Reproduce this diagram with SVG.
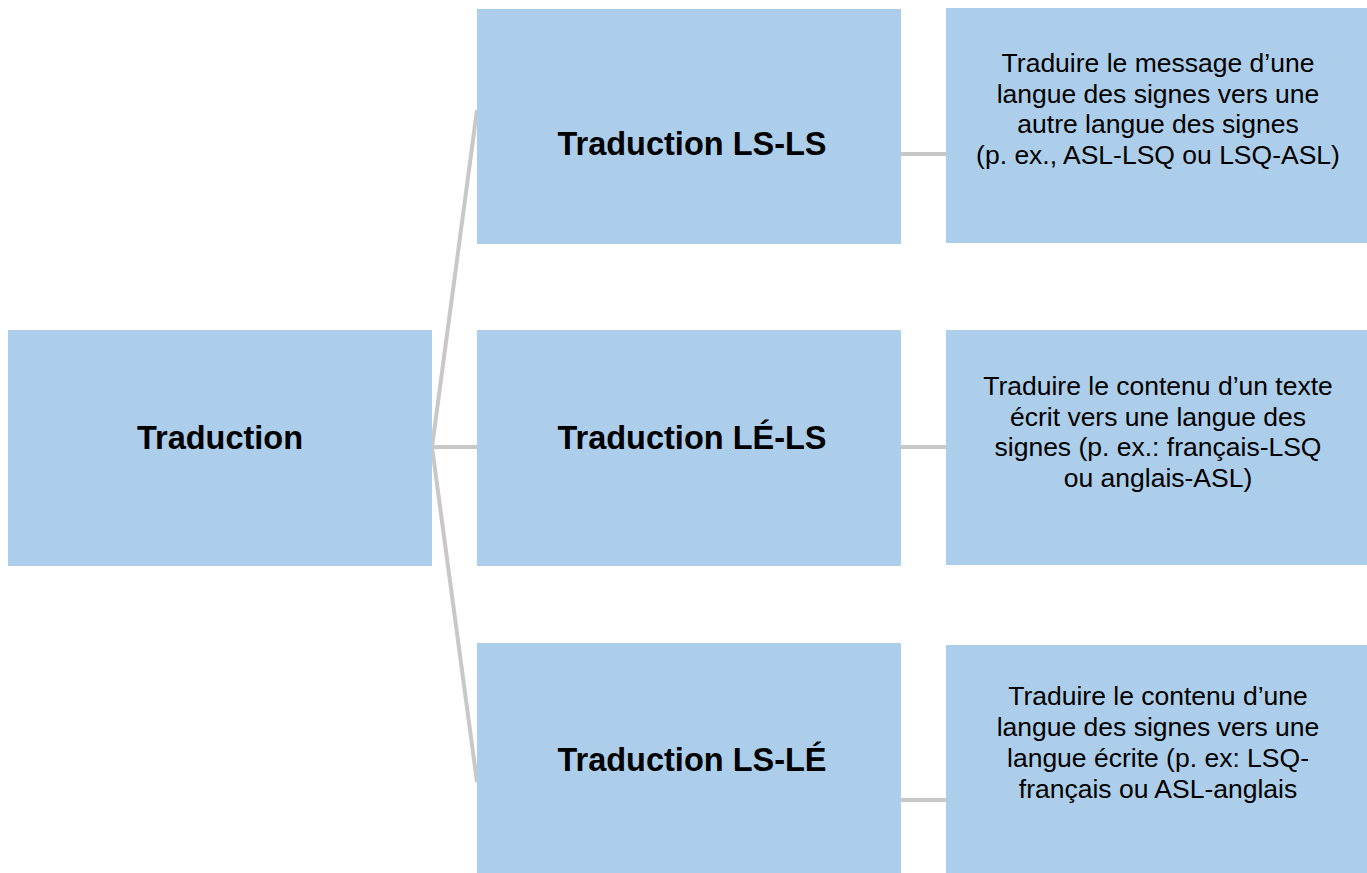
<svg xmlns="http://www.w3.org/2000/svg" width="1367" height="873" viewBox="0 0 1367 873">
<style>
.box{fill:#acceea}
.conn{stroke:#c8c8c8;stroke-width:4;fill:none}
.title{font-family:"Liberation Sans",Arial,sans-serif;font-weight:bold;font-size:32.5px;fill:#000;text-anchor:middle}
.desc{font-family:"Liberation Sans",Arial,sans-serif;font-size:26.5px;fill:#000;text-anchor:middle}
</style>
<rect width="1367" height="873" fill="#fff"/>
<g id="connectors">
<line class="conn" x1="432" y1="447" x2="477" y2="110"/>
<line class="conn" x1="432" y1="447" x2="477" y2="447"/>
<line class="conn" x1="432" y1="447" x2="477" y2="782"/>
<line class="conn" x1="901" y1="154" x2="946" y2="154"/>
<line class="conn" x1="901" y1="447" x2="946" y2="447"/>
<line class="conn" x1="901" y1="800" x2="946" y2="800"/>
</g>
<g id="traduction">
<rect class="box" x="8" y="330" width="424" height="236"/>
<text class="title" x="220" y="449">Traduction</text>
</g>
<g id="ls-ls">
<rect class="box" x="477" y="9" width="424" height="235"/>
<text class="title" x="692" y="155">Traduction LS-LS</text>
</g>
<g id="le-ls">
<rect class="box" x="477" y="330" width="424" height="236"/>
<text class="title" x="692" y="449">Traduction LÉ-LS</text>
</g>
<g id="ls-le">
<rect class="box" x="477" y="643" width="424" height="230"/>
<text class="title" x="692" y="771">Traduction LS-LÉ</text>
</g>
<g id="desc-ls-ls">
<rect class="box" x="946" y="8" width="424" height="235"/>
<text class="desc" x="1158" y="72">Traduire le message d’une</text>
<text class="desc" x="1158" y="103">langue des signes vers une</text>
<text class="desc" x="1158" y="133">autre langue des signes</text>
<text class="desc" x="1158" y="164">(p. ex., ASL-LSQ ou LSQ-ASL)</text>
</g>
<g id="desc-le-ls">
<rect class="box" x="946" y="330" width="424" height="235"/>
<text class="desc" x="1158" y="395">Traduire le contenu d’un texte</text>
<text class="desc" x="1158" y="426">écrit vers une langue des</text>
<text class="desc" x="1158" y="456">signes (p. ex.: français-LSQ</text>
<text class="desc" x="1158" y="487">ou anglais-ASL)</text>
</g>
<g id="desc-ls-le">
<rect class="box" x="946" y="645" width="424" height="228"/>
<text class="desc" x="1158" y="705">Traduire le contenu d’une</text>
<text class="desc" x="1158" y="736">langue des signes vers une</text>
<text class="desc" x="1158" y="767">langue écrite (p. ex: LSQ-</text>
<text class="desc" x="1158" y="798">français ou ASL-anglais</text>
</g>
</svg>
